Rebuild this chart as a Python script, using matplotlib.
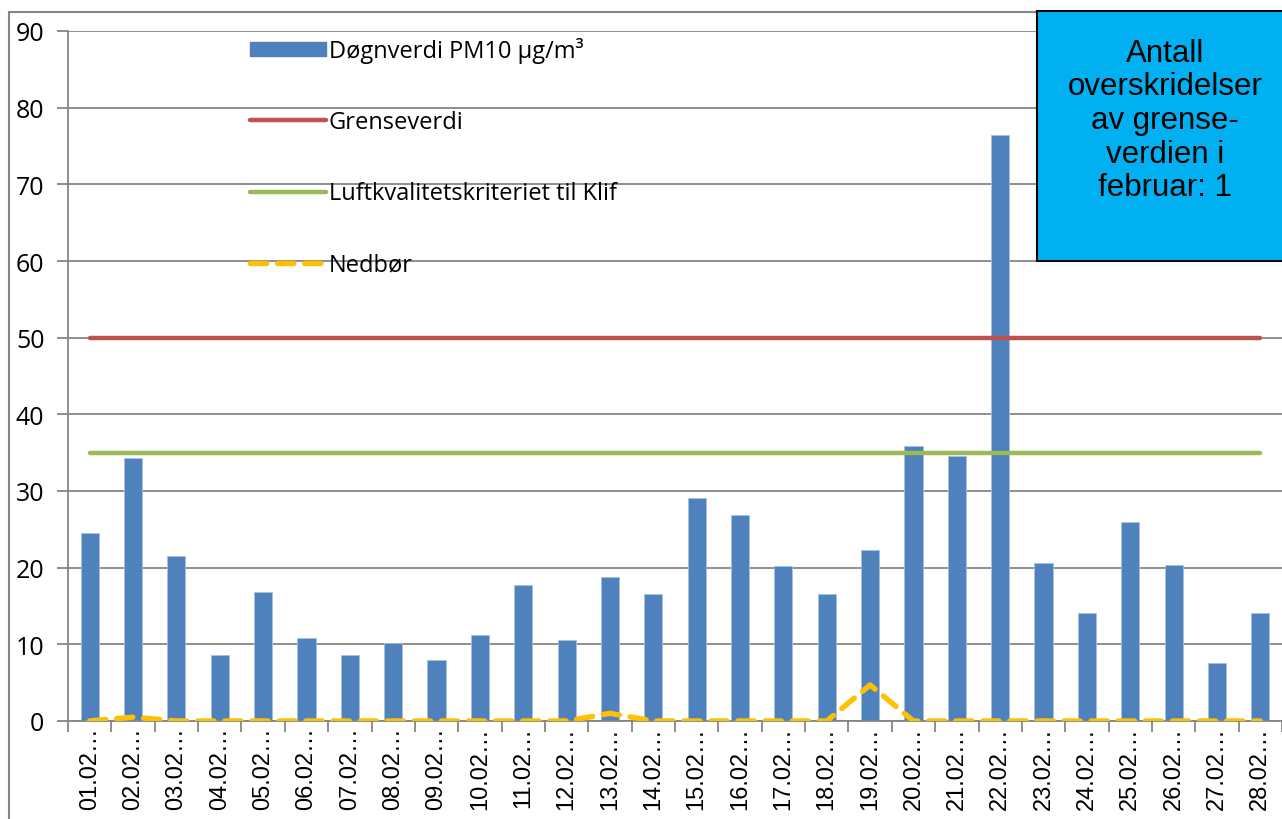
import matplotlib.pyplot as plt
from matplotlib.patches import Rectangle
from matplotlib.lines import Line2D
import numpy as np

# Dager i februar
days = ["01.02.", "02.02.", "03.02.", "04.02.", "05.02.", "06.02.", "07.02.",
        "08.02.", "09.02.", "10.02.", "11.02.", "12.02.", "13.02.", "14.02.",
        "15.02.", "16.02.", "17.02.", "18.02.", "19.02.", "20.02.", "21.02.",
        "22.02.", "23.02.", "24.02.", "25.02.", "26.02.", "27.02.", "28.02."]
pm10 = [24.5, 34.3, 21.5, 8.6, 16.8, 10.8, 8.6, 10.2, 8.0, 11.2, 17.7, 10.6,
        18.8, 16.6, 29.1, 26.9, 20.2, 16.6, 22.3, 35.9, 34.6, 76.4, 20.6,
        14.1, 26.0, 20.3, 7.6, 14.1]
nedbor = [0, 0.5, 0, 0, 0, 0, 0, 0, 0, 0, 0, 0, 1.0, 0, 0, 0, 0, 0, 4.7,
          0, 0, 0, 0, 0, 0, 0, 0, 0]
grenseverdi = 50
klif = 35
yticks = [0, 10, 20, 30, 40, 50, 60, 70, 80, 90]

fig = plt.figure(figsize=(12.82, 8.2), dpi=100)
ax = fig.add_axes([68 / 1282, 1 - 722 / 820, 1214 / 1282, 690 / 820])

x = np.arange(len(days))
grid_col = "#868686"

ax.bar(x, pm10, width=0.42, color="#4F81BD", edgecolor="#A7C0DE",
       linewidth=0.6, zorder=2)
ax.plot(x, [grenseverdi] * len(x), color="#C0504D", lw=3.2, zorder=3,
        solid_capstyle="round")
ax.plot(x, [klif] * len(x), color="#9BBB59", lw=3.2, zorder=3,
        solid_capstyle="round")
ax.plot(x, nedbor, color="#FFC000", lw=3.9, ls=(0, (3, 2.0)), zorder=4,
        dash_capstyle="round")

ax.set_xlim(-0.5, len(days) - 0.5)
ax.set_ylim(0, 90)
ax.set_yticks(yticks)
ax.set_yticklabels([str(v) for v in yticks], fontfamily="Open Sans")
ax.yaxis.grid(True, color=grid_col, lw=1.3, zorder=0)
ax.tick_params(axis="y", length=8, width=1.3, color=grid_col, pad=9,
               labelsize=18)

# kategorigrenser som hakemerker, etiketter midt i kategorien
ax.set_xticks(np.arange(len(days) + 1) - 0.5)
ax.set_xticklabels([])
ax.set_xticks(x, minor=True)
ax.set_xticklabels([d[:5] + "…" for d in days], minor=True, rotation=90,
                   fontfamily="Liberation Sans")
ax.tick_params(axis="x", which="major", length=8, width=1.3, color=grid_col)
ax.tick_params(axis="x", which="minor", length=0, pad=4, labelsize=17)

for side in ["top", "right"]:
    ax.spines[side].set_visible(False)
for side in ["left", "bottom"]:
    ax.spines[side].set_color(grid_col)
    ax.spines[side].set_linewidth(1.3)

handles = [
    Rectangle((0, 0), 1, 1, color="#4F81BD"),
    Line2D([], [], color="#C0504D", lw=3.2, solid_capstyle="round"),
    Line2D([], [], color="#9BBB59", lw=3.2, solid_capstyle="round"),
    Line2D([], [], color="#FFC000", lw=3.9, ls=(0, (3, 2.0)),
           dash_capstyle="round"),
]
labels = ["Døgnverdi PM10 µg/m³", "Grenseverdi",
          "Luftkvalitetskriteriet til Klif", "Nedbør"]
ax.legend(handles, labels, loc="upper left",
          bbox_to_anchor=(250 / 1282, 1 - 38 / 820),
          bbox_transform=fig.transFigure, frameon=False,
          prop={"family": "Open Sans", "size": 17}, labelspacing=2.0,
          handlelength=3.2, handleheight=0.55, handletextpad=0.13,
          borderpad=0, borderaxespad=0)

# ramme rundt diagramområdet
fig.patches.append(Rectangle((9 / 1282, -0.05), 1.1, 1 - 13 / 820 + 0.05,
                             transform=fig.transFigure, fill=False,
                             edgecolor=grid_col, lw=1.5))

# tekstboks
fig.patches.append(Rectangle((1037 / 1282, 1 - 262 / 820), 0.25,
                             250 / 820, transform=fig.transFigure,
                             facecolor="#00B0F0", edgecolor="black", lw=1.5,
                             zorder=5))
fig.text(1165 / 1282, 1 - 121 / 820,
         "Antall\noverskridelser\nav grense-\nverdien i\nfebruar: 1",
         ha="center", va="center", fontfamily="Liberation Sans",
         fontsize=22.5, linespacing=1.16, zorder=6)

fig.savefig("out.png", dpi=100)
